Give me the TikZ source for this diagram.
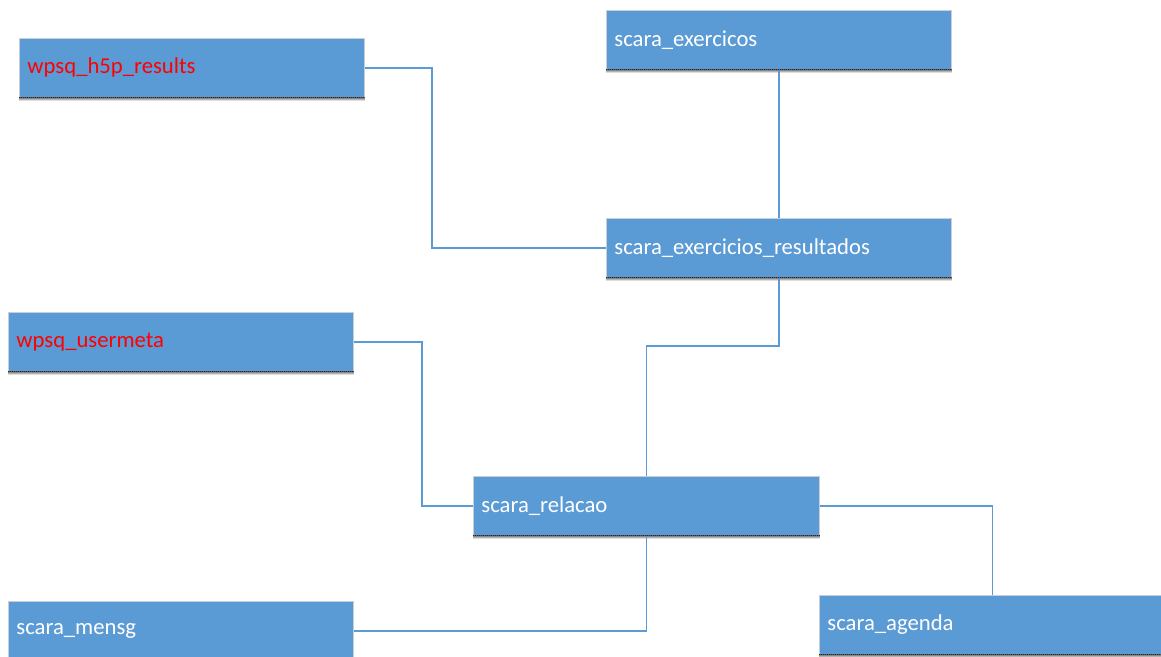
\documentclass[tikz,border=0pt]{standalone}
\usepackage{fontspec}
\setmainfont{Carlito}
\definecolor{boxblue}{HTML}{5B9BD5}
\definecolor{boxedge}{HTML}{C8CED6}
\definecolor{shade}{HTML}{D6E3F1}
\definecolor{linkblue}{HTML}{5B9BD5}
\tikzset{
  tbl/.style={rectangle, anchor=north west, fill=boxblue, draw=boxedge, line width=0.8pt,
    inner xsep=8pt, inner ysep=0pt, minimum height=59pt, align=left,
    font=\fontsize{22.7}{26}\selectfont, text=white},
  wp/.style={text=red},
  link/.style={draw=linkblue, line width=1.4pt},
  rowline/.style={draw=black!85, line width=0.9pt, dash pattern=on 1.2pt off 0.8pt},
}
\begin{document}
\begin{tikzpicture}[x=1pt,y=-1pt]
\clip (0,0) rectangle (1161,656);
\fill[white] (0,0) rectangle (1161,656);

% tables
\node[tbl, wp, text width=329pt] (h5p) at (19,38) {wpsq\_h5p\_results};
\node[tbl, text width=329pt] (exe) at (606,10) {scara\_exercicos};
\node[tbl, text width=329pt] (res) at (606,218) {scara\_exercicios\_resultados};
\node[tbl, wp, text width=329pt] (um) at (8,312) {wpsq\_usermeta};
\node[tbl, text width=330pt] (rel) at (473,476) {scara\_relacao};
\node[tbl, text width=329pt] (msg) at (8,601) {scara\_mensg};
\node[tbl, text width=326pt] (ag) at (819,595) {scara\_agenda};

% dotted row separator and soft strip under each table
\foreach \n in {h5p,exe,res,um,rel,msg,ag}{
  \fill[shade] (\n.south west) rectangle ([yshift=-3pt]\n.south east);
  \draw[rowline] (\n.south west) -- (\n.south east);
}

% relations
\draw[link] (h5p.east) -- ++(67,0) |- (res.west);
\draw[link] (exe.south) -- (res.north);
\draw[link] (res.south) -- ++(0,68) -| (rel.north);
\draw[link] (um.east) -- ++(68,0) |- (rel.west);
\draw[link] (rel.south) |- (msg.east);
\draw[link] (rel.east) -| ([xshift=2pt]ag.north);
\end{tikzpicture}
\end{document}
